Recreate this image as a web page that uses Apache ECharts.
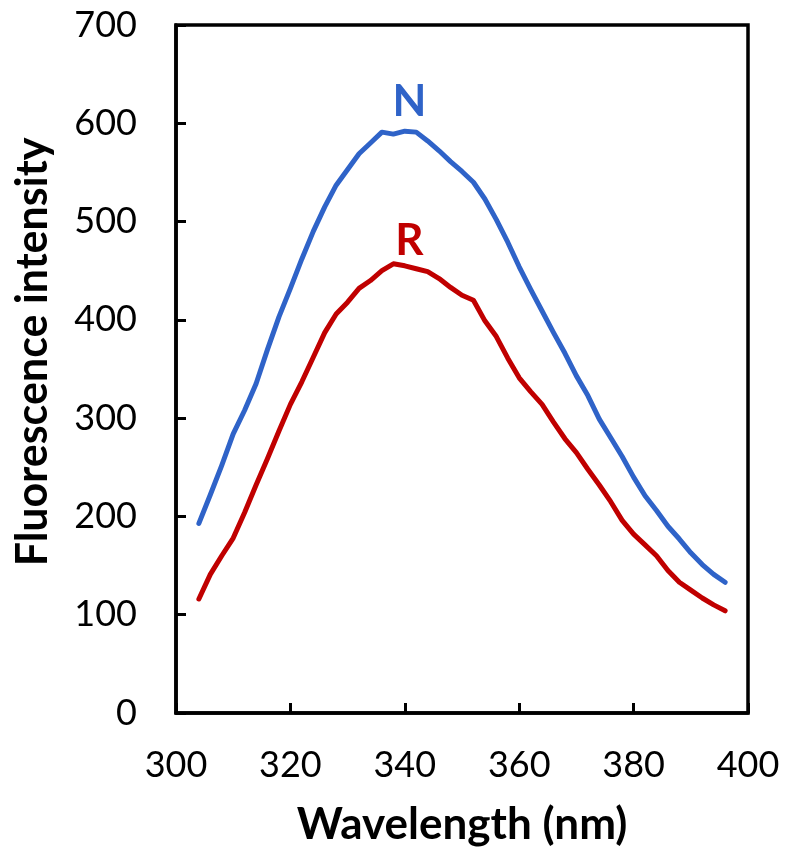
<!DOCTYPE html>
<html>
<head>
<meta charset="utf-8">
<script src="https://cdn.jsdelivr.net/npm/echarts@6/dist/echarts.min.js"></script>
<style>
html,body{margin:0;padding:0;background:#fff;}
#chart{width:786px;height:858px;}
</style>
</head>
<body>
<div id="chart"></div>
<script>
var wavelength = [304,306,308,310,312,314,316,318,320,322,324,326,328,330,332,334,336,338,340,342,344,346,348,350,352,354,356,358,360,362,364,366,368,370,372,374,376,378,380,382,384,386,388,390,392,394,396];
var seriesN = [193,222,252,284,308,335,370,403,432,462,490,515,537,553,569,580,591,589,592,591,582,572,561,551,540,523,502,479,454,431,409,387,366,343,323,299,280,261,240,221,206,190,177,163,151,141,133];
var seriesR = [116,141,160,178,204,232,259,287,314,337,362,387,406,418,432,440,450,457,455,452,449,442,433,425,420,399,383,361,341,327,314,296,279,265,248,232,215,196,182,171,160,145,133,125,117,110,104];
var xTicks = [300,320,340,360,380,400];
var yTicks = [0,100,200,300,400,500,600,700];
var curveNames = ['N','R'];
var labelPos = [[340.8,622],[340.8,480]];

function pairs(xs, ys){ return xs.map(function(x,i){ return [x, ys[i]]; }); }

var chart = echarts.init(document.getElementById('chart'), null, {renderer:'canvas'});
var font = 'Lato';
var colors = ['#2F63C8','#C00000'];
var dataSets = [seriesN, seriesR];

var series = dataSets.map(function(d, i){
  return {
    name: curveNames[i],
    type: 'line',
    data: pairs(wavelength, d),
    showSymbol: false,
    smooth: false,
    lineStyle: {color: colors[i], width: 5, cap: 'round', join: 'round'},
    itemStyle: {color: colors[i]},
    z: 3
  };
});
curveNames.forEach(function(n, i){
  series.push({
    type: 'scatter',
    data: [labelPos[i]],
    symbolSize: 0,
    silent: true,
    itemStyle: {opacity: 1, color: colors[i]},
    label: {show: true, position: 'inside', formatter: n, color: colors[i], opacity: 1,
      textBorderWidth: 0, fontFamily: font, fontWeight: 'bold', fontSize: 44}
  });
});

chart.setOption({
  animation: false,
  backgroundColor: '#ffffff',
  grid: {left: 176, right: 38, top: 25, bottom: 145, show: true, borderColor: '#000', borderWidth: 3.5, backgroundColor: 'transparent'},
  xAxis: {
    type: 'value', min: xTicks[0], max: xTicks[xTicks.length-1], interval: 20,
    name: 'Wavelength (nm)', nameLocation: 'middle', nameGap: 90,
    nameTextStyle: {fontFamily: font, fontWeight: 'bold', fontSize: 44, color: '#000'},
    axisLine: {show: true, lineStyle: {color: '#000', width: 3.5}},
    axisTick: {show: true, inside: true, length: 10, lineStyle: {color: '#000', width: 3}},
    axisLabel: {fontFamily: font, fontSize: 36, color: '#000', margin: 34},
    splitLine: {show: false}
  },
  yAxis: {
    type: 'value', min: yTicks[0], max: yTicks[yTicks.length-1], interval: 100,
    name: 'Fluorescence intensity', nameLocation: 'middle', nameGap: 121,
    nameTextStyle: {fontFamily: font, fontWeight: 'bold', fontSize: 43, color: '#000', padding: [0,0,0,34]},
    axisLine: {show: true, lineStyle: {color: '#000', width: 3.5}},
    axisTick: {show: true, inside: true, length: 10, lineStyle: {color: '#000', width: 3}},
    axisLabel: {fontFamily: font, fontSize: 36, color: '#000', margin: 39},
    splitLine: {show: false}
  },
  series: series
});
</script>
</body>
</html>
